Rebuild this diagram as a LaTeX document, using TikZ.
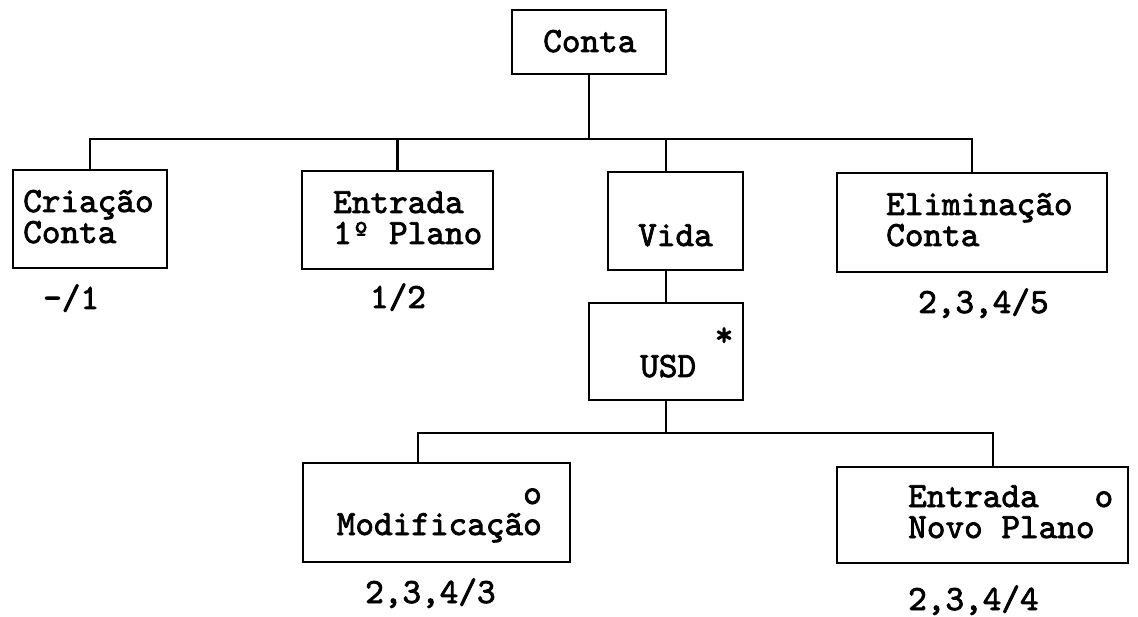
\documentclass[tikz,border=0pt]{standalone}
\usepackage{fontspec}
\newfontfamily\boxfont{lmmono10-regular.otf}[FakeBold=2.2]
\usetikzlibrary{calc}
\tikzset{
  box/.style={draw, line width=2.8pt, rectangle, inner sep=0pt},
  txt/.style={inner sep=0pt, anchor=base west, align=left, font=\fontsize{35.5}{31}\selectfont\boxfont},
  rtxt/.style={inner sep=0pt, anchor=base east, align=right, font=\fontsize{35.5}{31}\selectfont\boxfont},
  ctxt/.style={inner sep=0pt, anchor=base, font=\fontsize{35.5}{31}\selectfont\boxfont},
  link/.style={line width=2.8pt, line cap=rect},
}
\begin{document}
\begin{tikzpicture}[x=1pt,y=-1pt]
\useasboundingbox (0,0) rectangle (1138,617);
% boxes
\node[box, minimum width=154pt, minimum height=64pt] (conta) at (589,42) {};
\node[box, minimum width=154pt, minimum height=98pt] (criacao) at (90,219) {};
\node[box, minimum width=191pt, minimum height=98pt] (entrada) at (397.5,220) {};
\node[box, minimum width=135pt, minimum height=98pt] (vida) at (675.5,221) {};
\node[box, minimum width=270pt, minimum height=99pt] (elim) at (972,222.5) {};
\node[box, minimum width=154pt, minimum height=97pt] (usd) at (666,351.5) {};
\node[box, minimum width=267pt, minimum height=99pt] (modif) at (436.5,512.5) {};
\node[box, minimum width=291pt, minimum height=96pt] (novo) at (982.5,515) {};
% texts in boxes (anchor on last line baseline)
\node[txt] (tconta) at (543,52) {Conta};
\node[txt] (tcria) at (23,243) {Criação\\Conta};
\node[txt] (tentr) at (333,244) {Entrada\\1º Plano};
\node[txt] (tvida) at (638,246) {Vida};
\node[txt] (telim) at (886,246) {Eliminação\\Conta};
\node[txt] (tusd) at (640,377) {\ \ \ \ *\\USD};
\node[rtxt] (tmodif) at (542,535) {o\\Modificação};
\node[txt] (tnovo) at (908,538) {Entrada\ \ \ o\\Novo Plano};
% labels below
\node[txt] (l1) at (43,309) {-/1};
\node[ctxt] (l2) at (398,308) {1/2};
\node[txt] (l5) at (918,313) {2,3,4/5};
\node[txt] (l3) at (365,603) {2,3,4/3};
\node[txt] (l4) at (908,610) {2,3,4/4};
% connectors
\coordinate (bus) at (589,139);
\coordinate (bus2) at (666,433);
\coordinate (vidatop) at (666,172);
\coordinate (modtop) at (418,463);
\coordinate (novotop) at (993,467);
\draw[link] (conta.south) -- (bus);
\draw[link] (criacao.north) |- (bus) -| (elim.north);
\draw[link] (entrada.north) -- (entrada.north |- bus);
\draw[link] (vidatop) -- (vidatop |- bus);
\draw[link] (usd.north |- vida.south) -- (usd.north);
\draw[link] (usd.south) -- (bus2);
\draw[link] (modtop) |- (bus2) -| (novotop);
\end{tikzpicture}
\end{document}
